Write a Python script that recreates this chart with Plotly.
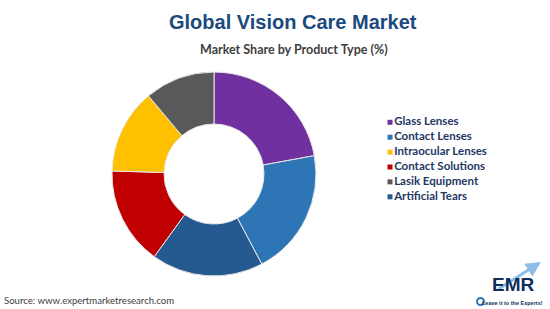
import plotly.graph_objects as go

# Slices in clockwise order from 12 o'clock
slice_labels = ["Glass Lenses", "Contact Lenses", "Artificial Tears",
                "Contact Solutions", "Intraocular Lenses", "Lasik Equipment"]
slice_values = [22.1, 20.1, 17.7, 15.5, 13.4, 11.1]

# Legend order as shown in the reference
legend_labels = ["Glass Lenses", "Contact Lenses", "Intraocular Lenses",
                 "Contact Solutions", "Lasik Equipment", "Artificial Tears"]

colors = {
    "Glass Lenses": "#7030A0",
    "Contact Lenses": "#2E75B6",
    "Intraocular Lenses": "#FFC000",
    "Contact Solutions": "#C00000",
    "Lasik Equipment": "#595959",
    "Artificial Tears": "#245A8F",
}

W, H = 550, 309
cx, cy, r = 214, 174, 102

fig = go.Figure()
fig.add_trace(go.Pie(
    labels=slice_labels, values=slice_values, hole=0.49,
    sort=False, direction="clockwise", rotation=0,
    marker=dict(colors=[colors[l] for l in slice_labels],
                line=dict(color="#E8E8E8", width=1)),
    textinfo="none", hoverinfo="label+percent", showlegend=False,
    domain=dict(x=[(cx - r) / W, (cx + r) / W],
                y=[1 - (cy + r) / H, 1 - (cy - r) / H]),
))

# Legend drawn as a marker+text series on hidden axes
fig.add_trace(go.Scatter(
    x=[0] * len(legend_labels), y=legend_labels,
    mode="markers+text", text=legend_labels, textposition="middle right",
    marker=dict(symbol="square", size=5, color=[colors[l] for l in legend_labels]),
    textfont=dict(family="Lato", size=11.5, color="#1F3864", weight="bold"),
    cliponaxis=False, showlegend=False, hoverinfo="skip",
))

leg_top, leg_step = 122.3, 14.9
fig.update_layout(
    width=W, height=H,
    margin=dict(l=0, r=0, t=0, b=0),
    paper_bgcolor="white", plot_bgcolor="white",
    showlegend=False,
    xaxis=dict(visible=False, domain=[390 / W, 1], range=[0, 1], fixedrange=True),
    yaxis=dict(visible=False, type="category",
               categoryorder="array", categoryarray=legend_labels,
               range=[len(legend_labels) - 0.5, -0.5],
               domain=[1 - (leg_top + (len(legend_labels) - 0.5) * leg_step) / H,
                       1 - (leg_top - 0.5 * leg_step) / H]),
    annotations=[
        dict(text="Global Vision Care Market", x=293 / W, y=1 - 22 / H,
             xref="paper", yref="paper", showarrow=False,
             xanchor="center", yanchor="middle",
             font=dict(family="Arial", size=20, color="#1B4A7E", weight="bold")),
        dict(text="Market Share by Product Type (%)", x=294 / W, y=1 - 49 / H,
             xref="paper", yref="paper", showarrow=False,
             xanchor="center", yanchor="middle",
             font=dict(family="Lato", size=12.5, color="#404040", weight="bold")),
        dict(text="Source: www.expertmarketresearch.com", x=2 / W, y=1 - 300 / H,
             xref="paper", yref="paper", showarrow=False,
             xanchor="left", yanchor="middle",
             font=dict(family="Lato", size=9.6, color="#404040")),
        dict(text="", x=541 / W, y=1 - 262 / H, ax=-44, ay=28,
             xref="paper", yref="paper", axref="pixel", ayref="pixel",
             showarrow=True, arrowhead=2, arrowsize=1, arrowwidth=3,
             arrowcolor="#8DBCE6"),
        dict(text="EMR", x=513 / W, y=1 - 297 / H,
             xref="paper", yref="paper", showarrow=False,
             xanchor="center", yanchor="bottom",
             font=dict(family="Arial", size=19, color="#0E2F5A", weight="bold")),
        dict(text="Leave it to the Experts!", x=512 / W, y=1 - 298 / H,
             xref="paper", yref="paper", showarrow=False,
             xanchor="center", yanchor="top",
             font=dict(family="Arial", size=5.5, color="#0E2F5A", weight="bold")),
    ],
    shapes=[
        dict(type="circle", xref="paper", yref="paper",
             x0=477 / W, x1=484 / W, y0=1 - 305 / H, y1=1 - 298 / H,
             line=dict(color="#2E75B6", width=2), fillcolor="white"),
    ],
)

fig.write_html("out.html")
